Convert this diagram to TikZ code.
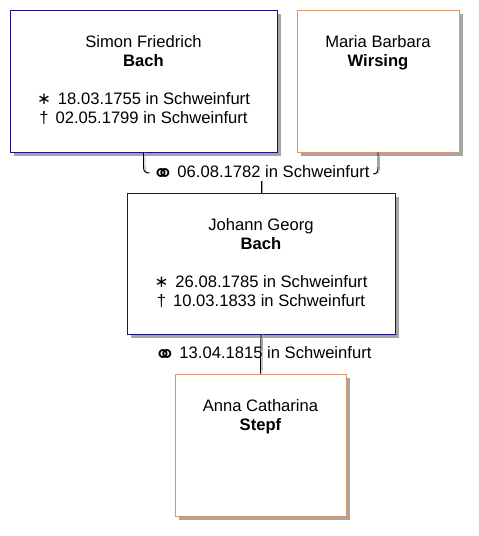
\documentclass[tikz,border=0pt]{standalone}
\usepackage{fontspec}
\setmainfont{Liberation Sans}
\newfontfamily\symfont{DejaVu Sans}
\usetikzlibrary{shadows}
\definecolor{manframe}{RGB}{20,20,130}
\definecolor{womanframe}{RGB}{220,150,110}
\definecolor{shadowgray}{RGB}{165,165,165}
\newcommand{\birth}{{\symfont ∗}\hspace{7pt}}
\newcommand{\death}{†\hspace{7pt}}
\newcommand{\marr}{\raisebox{-5.5pt}{\symfont\fontsize{26}{26}\selectfont ⚭}\hspace{3.5pt}}

\begin{document}
\begin{tikzpicture}[x=1pt, y=-1pt,
  person/.style={draw, line width=0.9pt, fill=white, inner sep=0pt,
    general shadow={shadow xshift=4pt, shadow yshift=-4pt, fill=shadowgray}},
  man/.style={person, draw=manframe},
  woman/.style={person, draw=womanframe},
  info/.style={anchor=north, inner sep=0pt, align=center, font=\fontsize{16.6}{19}\selectfont},
  wedding/.style={anchor=base west, inner sep=0pt, font=\fontsize{16.6}{19}\selectfont},
  conn/.style={line width=0.9pt, preaction={draw=shadowgray, line width=0.9pt, transform canvas={xshift=1.5pt}}}]
  \useasboundingbox (0,0) rectangle (479,536);

  \node[man, minimum width=267pt, minimum height=142pt] (simon) at (143.5,81) {};
  \node[woman, minimum width=162pt, minimum height=142pt] (maria) at (378,81) {};
  \node[man, minimum width=268pt, minimum height=141pt] (johann) at (261,263.5) {};
  \node[woman, minimum width=171pt, minimum height=142pt] (anna) at (260.5,445) {};

  \node[info] (simontxt) at ([yshift=-26pt]simon.north)
    {Simon Friedrich\\\textbf{Bach}\\[19pt]\birth 18.03.1755 in Schweinfurt\\\death 02.05.1799 in Schweinfurt};
  \node[info] (mariatxt) at ([yshift=-26pt]maria.north) {Maria Barbara\\\textbf{Wirsing}};
  \node[info] (johanntxt) at ([yshift=-26pt]johann.north)
    {Johann Georg\\\textbf{Bach}\\[19pt]\birth 26.08.1785 in Schweinfurt\\\death 10.03.1833 in Schweinfurt};
  \node[info] (annatxt) at ([yshift=-26pt]anna.north) {Anna Catharina\\\textbf{Stepf}};

  \coordinate (hookl) at (149,173);
  \coordinate (hookr) at (373,174);
  \draw[conn] (simon.south) -- ++(0,14) .. controls +(0,5) and +(-4,0) .. (hookl);
  \draw[conn] (maria.south) -- ++(0,14) .. controls +(0,5) and +(4,0) .. (hookr);
  \node[wedding] (wed1) at (152,177) {\marr 06.08.1782 in Schweinfurt};
  \draw[conn] ([yshift=-4pt]johann.north |- wed1.base) -- (johann.north);

  \draw[conn] (johann.south) -- (anna.north);
  \node[wedding] (wed2) at (154,358) {\marr 13.04.1815 in Schweinfurt};
\end{tikzpicture}
\end{document}
